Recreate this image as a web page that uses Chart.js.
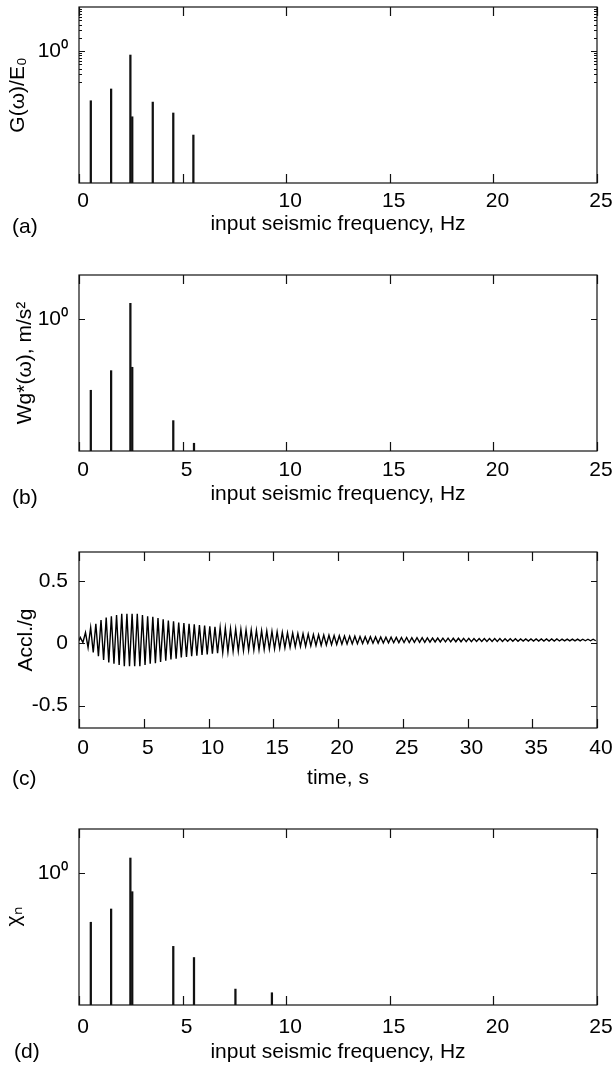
<!DOCTYPE html>
<html>
<head>
<meta charset="utf-8">
<script src="https://cdn.jsdelivr.net/npm/chart.js@4.4.1/dist/chart.umd.min.js"></script>
<style>
  html, body { margin: 0; padding: 0; background: #fff; }
  #page { position: relative; width: 615px; height: 1068px; overflow: hidden; font-family: "Liberation Sans", Arial, Helvetica, sans-serif; }
  #page canvas { position: absolute; left: 0; }
  .tag { position: absolute; font-size: 21px; line-height: 24px; color: #000; }
</style>
</head>
<body>
<div id="page">
  <canvas id="chartA" width="615" height="253"></canvas>
  <canvas id="chartB" width="615" height="253"></canvas>
  <canvas id="chartC" width="615" height="253"></canvas>
  <canvas id="chartD" width="615" height="253"></canvas>
  <div class="tag" style="left:12px; top:214px;">(a)</div>
  <div class="tag" style="left:12px; top:485px;">(b)</div>
  <div class="tag" style="left:12px; top:766px;">(c)</div>
  <div class="tag" style="left:14px; top:1039px;">(d)</div>
</div>
<script>
// ---- data ----
const freqTicks = [0, 5, 10, 15, 20, 25];
const freqTickLabels = ['0', '5', '10', '15', '20', '25'];
const freqTickLabelsA = ['0', '', '10', '15', '20', '25'];
const logTicks = [1];
const logTickLabels = ['10\u2070'];
const logMinorA = [0.2, 0.3, 0.4, 0.5, 0.6, 0.7, 0.8, 0.9, 2, 3, 4, 5, 6, 7, 8, 9];

// (a) G(w)/E0
const freqA = [0.57, 1.55, 2.48, 2.57, 3.56, 4.55, 5.52];
const gainA = [0.074, 0.137, 0.81, 0.032, 0.069, 0.039, 0.0123];

// (b) Wg*(w)
const freqB = [0.57, 1.55, 2.48, 2.57, 4.55, 5.55];
const wgB = [0.024, 0.067, 2.27, 0.08, 0.0049, 0.0015];

// (d) chi_n
const freqD = [0.57, 1.55, 2.48, 2.57, 4.55, 5.55, 7.55, 9.31];
const chiD = [0.076, 0.152, 2.19, 0.376, 0.0215, 0.012, 0.0023, 0.0019];

// (c) acceleration record, peaks and troughs
const timeTicks = [0, 5, 10, 15, 20, 25, 30, 35, 40];
const timeTickLabels = ['0', '5', '10', '15', '20', '25', '30', '35', '40'];
const accTicks = [-0.5, 0, 0.5];
const accTickLabels = ['-0.5', '0', '0.5'];
const accT = [
  0,
  0.1, 0.3, 0.5, 0.7, 0.9, 1.1, 1.3, 1.5, 1.7, 1.9,
  2.1, 2.3, 2.5, 2.7, 2.9, 3.1, 3.3, 3.5, 3.7, 3.9,
  4.1, 4.3, 4.5, 4.7, 4.9, 5.1, 5.3, 5.5, 5.7, 5.9,
  6.1, 6.3, 6.5, 6.7, 6.9, 7.1, 7.3, 7.5, 7.7, 7.9,
  8.1, 8.3, 8.5, 8.7, 8.9, 9.1, 9.3, 9.5, 9.7, 9.9,
  10.1, 10.3, 10.5, 10.7, 10.9, 11.1, 11.3, 11.5, 11.7, 11.9,
  12.1, 12.3, 12.5, 12.7, 12.9, 13.1, 13.3, 13.5, 13.7, 13.9,
  14.1, 14.3, 14.5, 14.7, 14.9, 15.1, 15.3, 15.5, 15.7, 15.9,
  16.1, 16.3, 16.5, 16.7, 16.9, 17.1, 17.3, 17.5, 17.7, 17.9,
  18.1, 18.3, 18.5, 18.7, 18.9, 19.1, 19.3, 19.5, 19.7, 19.9,
  20.1, 20.3, 20.5, 20.7, 20.9, 21.1, 21.3, 21.5, 21.7, 21.9,
  22.1, 22.3, 22.5, 22.7, 22.9, 23.1, 23.3, 23.5, 23.7, 23.9,
  24.1, 24.3, 24.5, 24.7, 24.9, 25.1, 25.3, 25.5, 25.7, 25.9,
  26.1, 26.3, 26.5, 26.7, 26.9, 27.1, 27.3, 27.5, 27.7, 27.9,
  28.1, 28.3, 28.5, 28.7, 28.9, 29.1, 29.3, 29.5, 29.7, 29.9,
  30.1, 30.3, 30.5, 30.7, 30.9, 31.1, 31.3, 31.5, 31.7, 31.9,
  32.1, 32.3, 32.5, 32.7, 32.9, 33.1, 33.3, 33.5, 33.7, 33.9,
  34.1, 34.3, 34.5, 34.7, 34.9, 35.1, 35.3, 35.5, 35.7, 35.9,
  36.1, 36.3, 36.5, 36.7, 36.9, 37.1, 37.3, 37.5, 37.7, 37.9,
  38.1, 38.3, 38.5, 38.7, 38.9, 39.1, 39.3, 39.5, 39.7, 39.9
];
const accY = [
  0.02,
  0.045, 0.005, 0.085, -0.035, 0.125, -0.075, 0.155, -0.105, 0.185, -0.135,
  0.205, -0.155, 0.215, -0.165, 0.225, -0.175, 0.235, -0.185, 0.235, -0.185,
  0.235, -0.185, 0.235, -0.185, 0.225, -0.175, 0.215, -0.165, 0.21, -0.16,
  0.2, -0.15, 0.19, -0.14, 0.18, -0.13, 0.175, -0.125, 0.165, -0.115,
  0.16, -0.11, 0.155, -0.105, 0.15, -0.1, 0.145, -0.095, 0.14, -0.09,
  0.135, -0.085, 0.13, -0.08, 0.125, -0.075, 0.12, -0.07, 0.115, -0.065,
  0.113, -0.063, 0.11, -0.06, 0.107, -0.057, 0.105, -0.055, 0.103, -0.053,
  0.1, -0.05, 0.097, -0.047, 0.095, -0.045, 0.091, -0.041, 0.087, -0.037,
  0.083, -0.033, 0.08, -0.03, 0.077, -0.027, 0.075, -0.025, 0.072, -0.022,
  0.069, -0.019, 0.067, -0.017, 0.065, -0.015, 0.063, -0.013, 0.061, -0.011,
  0.059, -0.009, 0.057, -0.007, 0.056, -0.006, 0.055, -0.005, 0.053, -0.003,
  0.052, -0.002, 0.051, -0.001, 0.05, 0, 0.049, 0.001, 0.048, 0.002,
  0.047, 0.003, 0.046, 0.004, 0.045, 0.005, 0.045, 0.005, 0.044, 0.006,
  0.043, 0.007, 0.043, 0.007, 0.042, 0.008, 0.041, 0.009, 0.041, 0.009,
  0.04, 0.01, 0.04, 0.01, 0.039, 0.011, 0.039, 0.011, 0.038, 0.012,
  0.038, 0.012, 0.037, 0.013, 0.037, 0.013, 0.037, 0.013, 0.036, 0.014,
  0.036, 0.014, 0.036, 0.014, 0.035, 0.015, 0.035, 0.015, 0.035, 0.015,
  0.034, 0.016, 0.034, 0.016, 0.034, 0.016, 0.034, 0.016, 0.033, 0.017,
  0.033, 0.017, 0.033, 0.017, 0.033, 0.017, 0.032, 0.018, 0.032, 0.018,
  0.032, 0.018, 0.032, 0.018, 0.031, 0.019, 0.031, 0.019, 0.031, 0.019
];

// ---- styling / layout ----
const FONT = { family: '"Liberation Sans", Arial, Helvetica, sans-serif', size: 21 };
const LH = FONT.size * 1.2;
const AXIS_H = 70;     // fixed height of the x axis box
const AXIS_W = 79;     // fixed width of the y axis box
const PAD_TOP = 7;

// box with inward ticks on all four sides, like the original
const framePlugin = {
  id: 'frame',
  afterDatasetsDraw(chart, args, opts) {
    const { ctx, chartArea: a, scales: { x, y } } = chart;
    ctx.save();
    ctx.strokeStyle = '#111';
    ctx.lineWidth = 1.2;
    ctx.beginPath();
    x.ticks.forEach(t => {
      const px = Math.round(x.getPixelForValue(t.value)) + 0.5;
      ctx.moveTo(px, a.bottom); ctx.lineTo(px, a.bottom - 9);
      ctx.moveTo(px, a.top); ctx.lineTo(px, a.top + 9);
    });
    y.ticks.forEach(t => {
      const py = Math.round(y.getPixelForValue(t.value)) + 0.5;
      ctx.moveTo(a.left, py); ctx.lineTo(a.left + 6, py);
      ctx.moveTo(a.right, py); ctx.lineTo(a.right - 6, py);
    });
    (opts.minor || []).forEach(v => {
      const py = Math.round(y.getPixelForValue(v)) + 0.5;
      ctx.moveTo(a.left, py); ctx.lineTo(a.left + 3, py);
      ctx.moveTo(a.right, py); ctx.lineTo(a.right - 3, py);
    });
    ctx.stroke();
    ctx.strokeRect(a.left, a.top, a.width, a.height);
    ctx.restore();
  }
};

// fixed axis boxes so that every plot area sits where it does in the figure
function fixBox(s, w, h) {
  if (w !== null) s.width = w;
  if (h !== null) s.height = h;
  s.paddingTop = 0; s.paddingBottom = 0; s.paddingLeft = 0; s.paddingRight = 0;
}

function xAxis(min, max, ticks, labels, title, tickOff, titleOff) {
  return {
    type: 'linear', min, max, offset: false,
    afterFit: s => fixBox(s, null, AXIS_H),
    afterBuildTicks: s => { s.ticks = ticks.map(v => ({ value: v })); },
    grid: { display: false, drawTicks: false }, border: { display: false },
    ticks: {
      color: '#000', font: FONT, maxRotation: 0, autoSkip: false,
      padding: tickOff - LH / 2, labelOffset: 4,
      callback: (v, i) => labels[i]
    },
    title: { display: true, text: title, color: '#000', font: FONT,
             padding: { top: 0, bottom: AXIS_H - LH / 2 - titleOff } }
  };
}

function yAxis(type, min, max, ticks, labels, title, titleX) {
  return {
    type, min, max,
    afterFit: s => fixBox(s, AXIS_W, null),
    afterBuildTicks: s => { s.ticks = ticks.map(v => ({ value: v })); },
    grid: { display: false, drawTicks: false }, border: { display: false },
    ticks: { color: '#000', font: FONT, padding: 11, autoSkip: false,
             callback: (v, i) => labels[i] },
    title: { display: true, text: title, color: '#000', font: FONT,
             padding: { top: titleX - LH / 2, bottom: 0 } }
  };
}

function placeCanvas(id, chartTop) {
  const c = document.getElementById(id);
  c.style.top = (chartTop - PAD_TOP) + 'px';
  c.height = PAD_TOP + 176 + AXIS_H;
  return c;
}

function stemChart(id, chartTop, freqs, vals, labels, yTitle, titleX, tickOff, titleOff, minor) {
  const c = placeCanvas(id, chartTop);
  return new Chart(c, {
    type: 'bar',
    data: {
      datasets: [{
        data: freqs.map((f, i) => ({ x: f, y: vals[i] })),
        backgroundColor: '#111',
        barThickness: 1.6
      }]
    },
    options: {
      responsive: false, animation: false,
      layout: { padding: { top: PAD_TOP, right: 18, left: 0, bottom: 0 } },
      plugins: { legend: { display: false }, tooltip: { enabled: false }, frame: { minor } },
      scales: {
        x: xAxis(0, 25, freqTicks, labels, 'input seismic frequency, Hz', tickOff, titleOff),
        y: yAxis('logarithmic', 0.001, 10, logTicks, logTickLabels, yTitle, titleX)
      }
    },
    plugins: [framePlugin]
  });
}

stemChart('chartA', 7, freqA, gainA, freqTickLabelsA, 'G(\u03C9)/E\u2080', 18, 18, 41, logMinorA);
stemChart('chartB', 275, freqB, wgB, freqTickLabels, 'Wg*(\u03C9), m/s\u00B2', 25, 19, 43, []);
stemChart('chartD', 829, freqD, chiD, freqTickLabels, '\u03C7\u2099', 14.5, 22, 47, []);

const cC = placeCanvas('chartC', 552);
new Chart(cC, {
  type: 'line',
  data: {
    datasets: [{
      data: accT.map((t, i) => ({ x: t, y: accY[i] })),
      borderColor: '#000',
      borderWidth: 1.4,
      pointRadius: 0,
      tension: 0,
      fill: false
    }]
  },
  options: {
    responsive: false, animation: false,
    layout: { padding: { top: PAD_TOP, right: 18, left: 0, bottom: 0 } },
    plugins: { legend: { display: false }, tooltip: { enabled: false }, frame: { minor: [] } },
    scales: {
      x: xAxis(0, 40, timeTicks, timeTickLabels, 'time, s', 20, 50),
      y: yAxis('linear', -0.68, 0.73, accTicks, accTickLabels, 'Accl./g', 26)
    }
  },
  plugins: [framePlugin]
});
</script>
</body>
</html>
